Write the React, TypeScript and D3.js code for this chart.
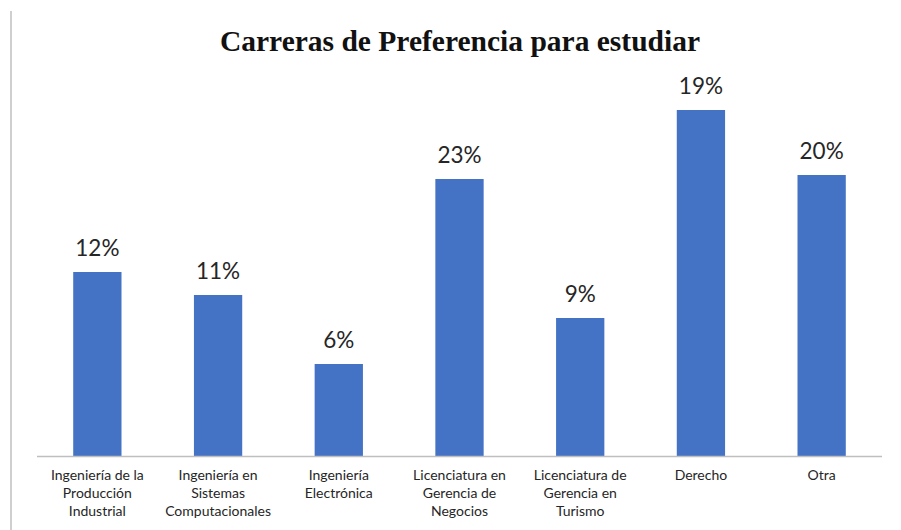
import React from "react";
import * as d3 from "d3";

const categories: string[][] = [
  ["Ingeniería de la", "Producción", "Industrial"],
  ["Ingeniería en", "Sistemas", "Computacionales"],
  ["Ingeniería", "Electrónica"],
  ["Licenciatura en", "Gerencia de", "Negocios"],
  ["Licenciatura de", "Gerencia en", "Turismo"],
  ["Derecho"],
  ["Otra"],
];
// bar heights as drawn in the reference (arbitrary units)
const barValues = [18.4, 16.1, 9.2, 27.7, 13.8, 34.6, 28.1];
// labels shown above bars
const pctLabels = ["12%", "11%", "6%", "23%", "9%", "19%", "20%"];
const title = "Carreras de Preferencia para estudiar";

const W = 901;
const H = 530;
const left = 37;
const right = 882;
const baseY = 456;
const topY = 56;

export default function App() {
  const idx = categories.map((_, i) => i);
  const x = d3.scaleBand<number>().domain(idx).range([left, right]).paddingInner(0.6).paddingOuter(0.3);
  const y = d3.scaleLinear().domain([0, 40]).range([baseY, topY]);
  return (
    <svg width={W} height={H} style={{ position: "absolute", left: 0, top: 0, background: "#fff" }}>
      <rect x={0} y={0} width={W} height={H} fill="#fff" />
      <line x1={11} x2={11} y1={11} y2={H} stroke="#bfbfbf" strokeWidth={1.5} />
      <text x={460} y={51} textAnchor="middle" fontFamily="Liberation Serif" fontWeight="bold" fontSize={29.5} fill="#111">
        {title}
      </text>
      {barValues.map((v, i) => (
        <rect key={i} x={x(i)} y={y(v)} width={x.bandwidth()} height={baseY - y(v)} fill="#4472c4" />
      ))}
      <line x1={left} x2={right} y1={baseY + 0.5} y2={baseY + 0.5} stroke="#bfbfbf" strokeWidth={1.5} />
      {barValues.map((v, i) => (
        <text key={i} x={(x(i) as number) + x.bandwidth() / 2} y={y(v) - 16} textAnchor="middle" fontFamily="Lato" fontSize={22.5} fill="#262626">
          {pctLabels[i]}
        </text>
      ))}
      {categories.map((lines, i) => (
        <text key={i} textAnchor="middle" fontFamily="Lato" fontSize={14} fill="#262626">
          {lines.map((l, j) => (
            <tspan key={j} x={(x(i) as number) + x.bandwidth() / 2} y={480 + j * 18}>{l}</tspan>
          ))}
        </text>
      ))}
    </svg>
  );
}
